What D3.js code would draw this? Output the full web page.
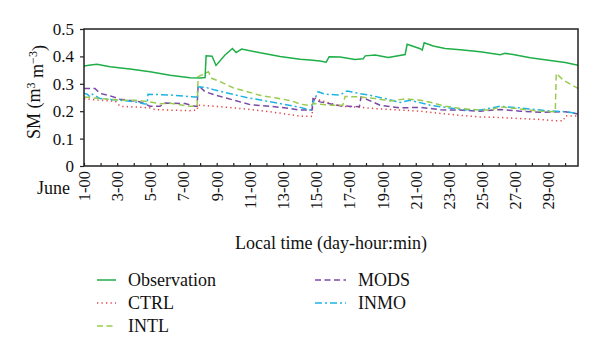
<!DOCTYPE html>
<html>
<head>
<meta charset="utf-8">
<script src="https://cdnjs.cloudflare.com/ajax/libs/d3/7.8.5/d3.min.js"></script>
<style>
body { margin: 0; background: #fff; }
svg { display: block; }
text { font-family: "Liberation Serif", "DejaVu Serif", serif; fill: #111; }
</style>
</head>
<body>
<div id="chart"></div>
<script>
// day of June (1 = June 1 00:00), soil moisture (m3 m-3)
var observation = [[1.0, 0.365], [1.4, 0.369], [1.78, 0.371], [2.57, 0.362], [3.77, 0.354], [4.98, 0.344],
    [6.19, 0.331], [6.79, 0.327], [7.39, 0.322], [8.0, 0.321], [8.3, 0.323], [8.36, 0.402], [8.72, 0.401],
    [8.96, 0.367], [9.5, 0.405], [9.95, 0.429], [10.17, 0.414], [10.5, 0.427], [11.62, 0.413], [12.82, 0.400],
    [14.03, 0.390], [14.63, 0.387], [15.23, 0.383], [15.6, 0.379], [15.78, 0.399], [16.44, 0.398], [17.34, 0.389],
    [17.83, 0.391], [17.95, 0.402], [18.55, 0.405], [19.34, 0.396], [20.36, 0.407], [20.48, 0.444], [21.27, 0.428],
    [21.39, 0.423], [21.51, 0.450], [22.05, 0.438], [22.77, 0.429], [23.68, 0.424], [24.88, 0.417], [26.09, 0.406],
    [26.39, 0.411], [26.87, 0.407], [27.9, 0.395], [29.11, 0.385], [30.01, 0.378], [30.78, 0.368]];

var ctrl = [[1.0, 0.245], [1.97, 0.240], [2.9, 0.236], [3.17, 0.218], [4.5, 0.214], [4.98, 0.212], [5.28, 0.206],
    [6.19, 0.204], [7.39, 0.202], [7.82, 0.204], [7.88, 0.222], [8.9, 0.218], [10.41, 0.210], [12.22, 0.198],
    [14.03, 0.182], [14.75, 0.181], [14.81, 0.251], [15.23, 0.240], [16.44, 0.218], [17.65, 0.214], [18.85, 0.208],
    [20.06, 0.204], [21.27, 0.200], [22.47, 0.192], [23.68, 0.185], [24.88, 0.179], [26.09, 0.177], [27.3, 0.173],
    [28.5, 0.170], [29.41, 0.165], [29.9, 0.165], [30.01, 0.183], [30.78, 0.182]];

var intl = [[1.0, 0.252], [1.97, 0.246], [3.17, 0.240], [4.08, 0.240], [4.98, 0.234], [5.58, 0.227], [6.19, 0.229],
    [7.39, 0.218], [7.82, 0.218], [7.88, 0.326], [8.2, 0.335], [8.5, 0.344], [8.7, 0.320], [9.2, 0.308],
    [10.0, 0.285], [10.8, 0.272], [11.6, 0.258], [12.6, 0.248], [13.5, 0.238], [14.03, 0.226], [14.63, 0.220],
    [14.81, 0.228], [15.84, 0.222], [16.6, 0.222], [16.74, 0.254], [17.65, 0.252], [18.55, 0.246], [19.46, 0.237],
    [20.36, 0.245], [21.27, 0.240], [22.05, 0.230], [22.77, 0.218], [23.68, 0.210], [24.88, 0.204], [25.5, 0.204],
    [26.1, 0.216], [27.3, 0.208], [28.5, 0.200], [29.41, 0.198], [29.47, 0.338], [29.9, 0.313], [30.78, 0.283]];

var mods = [[1.0, 0.283], [1.66, 0.283], [1.97, 0.265], [2.57, 0.256], [3.17, 0.244], [4.38, 0.234], [4.98, 0.218],
    [5.58, 0.218], [5.89, 0.230], [7.09, 0.228], [7.69, 0.218], [7.82, 0.218], [7.88, 0.295], [8.3, 0.271],
    [8.9, 0.259], [9.81, 0.244], [11.01, 0.224], [12.22, 0.218], [13.42, 0.210], [14.03, 0.204], [14.75, 0.204],
    [14.81, 0.246], [15.23, 0.234], [16.44, 0.220], [17.6, 0.216], [17.7, 0.252], [18.85, 0.222], [20.06, 0.212],
    [21.3, 0.214], [22.5, 0.205], [23.68, 0.204], [24.88, 0.200], [26.09, 0.206], [27.3, 0.200], [28.5, 0.196],
    [30.01, 0.198], [30.78, 0.190]];

var inmo = [[1.0, 0.265], [1.2, 0.262], [1.36, 0.252], [1.5, 0.262], [1.97, 0.246], [3.17, 0.240], [4.08, 0.234],
    [4.68, 0.226], [4.8, 0.226], [4.86, 0.262], [6.19, 0.259], [7.69, 0.252], [7.82, 0.252], [7.88, 0.289],
    [8.4, 0.286], [8.9, 0.277], [10.8, 0.250], [12.8, 0.228], [14.03, 0.214], [14.63, 0.204], [14.81, 0.230],
    [15.11, 0.271], [15.54, 0.262], [16.44, 0.259], [16.86, 0.274], [17.65, 0.264], [18.25, 0.258], [19.15, 0.246],
    [20.06, 0.232], [20.66, 0.240], [21.87, 0.222], [23.68, 0.206], [24.88, 0.204], [26.09, 0.218], [27.3, 0.212],
    [28.8, 0.202], [30.01, 0.198], [30.78, 0.192]];

var seriesNames = ["Observation", "CTRL", "INTL", "MODS", "INMO"];
var yTicks = [0, 0.1, 0.2, 0.3, 0.4, 0.5];
var dayTicks = d3.range(1, 31);

var styles = {
    "Observation": { color: "#1fae48", dash: null },
    "CTRL": { color: "#e0464a", dash: "1.3,3.2" },
    "INTL": { color: "#9acb4f", dash: "6,3.5" },
    "MODS": { color: "#7a4aa6", dash: "6,3.5" },
    "INMO": { color: "#1eb3e3", dash: "7,3,2,3" }
};
var seriesData = {
    "Observation": observation, "CTRL": ctrl, "INTL": intl, "MODS": mods, "INMO": inmo
};

var W = 600, H = 353;
var margin = { top: 29, right: 22, bottom: 187, left: 84 };
var width = W - margin.left - margin.right,
    height = H - margin.top - margin.bottom;

var svg = d3.select("#chart").append("svg")
    .attr("width", W)
    .attr("height", H);

var g = svg.append("g")
    .attr("transform", "translate(" + margin.left + "," + margin.top + ")");

var x = d3.scaleLinear().domain([1, 30.78]).range([0, width]);
var y = d3.scaleLinear().domain([0, 0.5]).range([height, 0]);

var line = d3.line()
    .x(function (d) { return x(d[0]); })
    .y(function (d) { return y(d[1]); });

// model runs first, observation on top
["CTRL", "MODS", "INMO", "INTL", "Observation"].forEach(function (name) {
    g.append("path")
        .datum(seriesData[name])
        .attr("fill", "none")
        .attr("stroke", styles[name].color)
        .attr("stroke-width", 1.5)
        .attr("stroke-dasharray", styles[name].dash)
        .attr("d", line);
});

// frame
g.append("rect")
    .attr("width", width)
    .attr("height", height)
    .attr("fill", "none")
    .attr("stroke", "#222")
    .attr("stroke-width", 1.5);

var yAxis = d3.axisLeft(y)
    .tickValues(yTicks)
    .tickSize(4)
    .tickPadding(6)
    .tickFormat(function (d) { return d === 0 ? "0" : d.toFixed(1); });

var gy = g.append("g").call(yAxis);
gy.select(".domain").remove();
gy.selectAll("line").attr("stroke", "#222").attr("stroke-width", 1.2);
gy.selectAll("text")
    .style("font-family", "'Liberation Serif', serif")
    .style("font-size", "17px")
    .attr("fill", "#111");

var xAxis = d3.axisBottom(x)
    .tickValues(dayTicks)
    .tickSize(-3)
    .tickFormat(function (d) { return d % 2 === 1 ? d + "-00" : ""; });

var gx = g.append("g")
    .attr("transform", "translate(0," + height + ")")
    .call(xAxis);
gx.select(".domain").remove();
gx.selectAll("line").attr("stroke", "#222").attr("stroke-width", 1.2);
gx.selectAll("text")
    .attr("transform", "rotate(-90)")
    .attr("x", -5)
    .attr("y", 0)
    .attr("dy", "0.33em")
    .style("text-anchor", "end")
    .style("font-family", "'Liberation Serif', serif")
    .style("font-size", "16.5px")
    .attr("fill", "#111");

g.append("text")
    .attr("x", -14)
    .attr("y", height + 28)
    .style("text-anchor", "end")
    .style("font-size", "18px")
    .text("June");

// axis titles
var yTitle = svg.append("text")
    .attr("transform", "translate(40,92) rotate(-90)")
    .style("text-anchor", "middle")
    .style("font-size", "18px");
yTitle.append("tspan").text("SM (m");
yTitle.append("tspan").attr("dy", "-0.45em").style("font-size", "12px").text("3");
yTitle.append("tspan").attr("dy", "0.45em").text(" m");
yTitle.append("tspan").attr("dy", "-0.45em").style("font-size", "12px").text("\u22123");
yTitle.append("tspan").attr("dy", "0.45em").text(")");

svg.append("text")
    .attr("x", margin.left + width / 2)
    .attr("y", 249)
    .style("text-anchor", "middle")
    .style("font-size", "18px")
    .text("Local time (day-hour:min)");

// legend, two columns
var legendPos = {
    "Observation": [97, 280], "CTRL": [97, 303], "INTL": [97, 326],
    "MODS": [315, 280], "INMO": [315, 303]
};
seriesNames.forEach(function (name) {
    var p = legendPos[name];
    var len = p[0] < 200 ? 19 : 31;
    var item = svg.append("g").attr("transform", "translate(" + p[0] + "," + p[1] + ")");
    item.append("line")
        .attr("x1", 0).attr("x2", len)
        .attr("stroke", styles[name].color)
        .attr("stroke-width", 1.5)
        .attr("stroke-dasharray", styles[name].dash);
    item.append("text")
        .attr("x", p[0] < 200 ? 31 : 43)
        .attr("y", 6)
        .style("font-size", "18px")
        .text(name);
});
</script>
</body>
</html>
